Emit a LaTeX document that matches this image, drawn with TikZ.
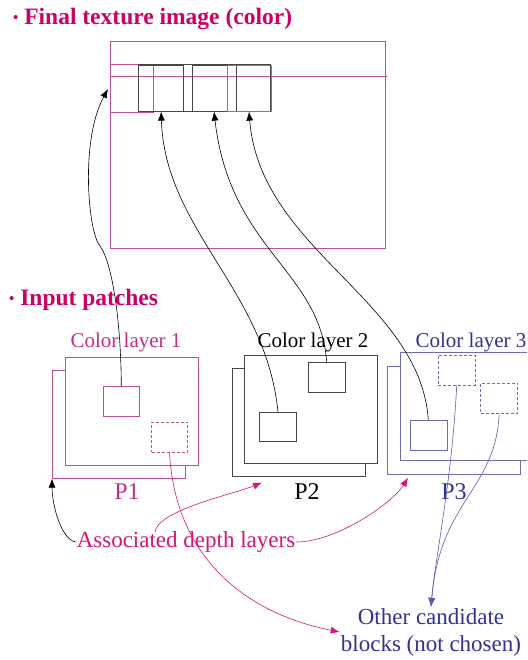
\documentclass[tikz,border=0pt]{standalone}
\usepackage{fontspec}
\setmainfont{Liberation Serif}
\usepackage{tikz}
\usetikzlibrary{arrows.meta,positioning,calc}
\definecolor{titlecolor}{RGB}{204,0,102}
\definecolor{layercolor}{RGB}{190,80,150}
\definecolor{labelcolor}{RGB}{195,45,135}
\definecolor{arrowcolor}{RGB}{215,20,120}
\definecolor{bluecolor}{RGB}{50,50,150}
\definecolor{bluelinecolor}{RGB}{110,110,175}
\definecolor{blockcolor}{RGB}{70,70,70}

\begin{document}
\begin{tikzpicture}[x=1pt,y=-1pt,>={Latex[length=9pt,width=7pt]},
  head/.style={font=\bfseries\fontsize{23.5}{27}\selectfont,text=titlecolor,inner sep=0pt,anchor=base west},
  lbl/.style={font=\fontsize{21}{25}\selectfont,inner sep=0pt,anchor=base},
  big/.style={font=\fontsize{23}{27}\selectfont,inner sep=1pt},
  panel/.style={draw,fill=white,inner sep=0pt,anchor=north west,minimum width=133pt,minimum height=108pt},
  blk/.style={draw,inner sep=0pt,minimum width=36pt,minimum height=30pt},
  cand/.style={blk,dash pattern=on 3pt off 2pt},
  link/.style={->,line width=0.6pt}]
\useasboundingbox (0,0) rectangle (527,660);
\clip (0,0) rectangle (527,660);
\fill[white] (0,0) rectangle (527,660);
% final texture image
\node[head](ttex) at (13,25) {{\fontsize{15}{15}\selectfont\raisebox{2pt}{\textbullet}}\ Final texture image (color)};
\node[draw=layercolor,line width=0.6pt,inner sep=0pt,anchor=north west,minimum width=275pt,minimum height=207pt](tex) at (110,41) {};
\draw[layercolor,line width=0.6pt] (110,64.7)--(138.3,64.7) (110,76)--(387,76) (110,112)--(153.3,112)--(153.3,64.7);
\draw[blockcolor,line width=0.6pt] (138.3,64.7) rectangle (270.7,111);
\node[blk,draw=blockcolor,line width=0.6pt,anchor=north west,minimum width=45pt,minimum height=46.3pt](tb1) at (138.3,64.7) {};
\node[blk,draw=blockcolor,line width=0.6pt,anchor=north west,minimum width=44pt,minimum height=46.3pt](tb2) at (191.7,64.7) {};
\node[blk,draw=blockcolor!70,line width=0.6pt,anchor=north west,minimum width=44pt,minimum height=46.3pt](tb3) at (226.7,64.7) {};
% input patches
\node[head](tin) at (9,305) {{\fontsize{15}{15}\selectfont\raisebox{2pt}{\textbullet}}\ Input patches};
\node[lbl,text=labelcolor](cl1) at (126,347) {Color layer 1};
\node[lbl](cl2) at (313,347) {Color layer 2};
\node[lbl,text=bluecolor](cl3) at (471,347) {Color layer 3};
\node[panel,draw=layercolor,line width=0.6pt](p1back) at (52,370) {};
\node[panel,draw=layercolor,line width=0.6pt](p1front) at (65,357) {};
\node[blk,draw=layercolor,line width=0.6pt](p1blk) at (121.3,401.7) {};
\node[cand,draw=layercolor,line width=0.6pt](p1cand) at (169.5,437) {};
\node[panel,draw=blockcolor,line width=0.6pt](p2back) at (232,368) {};
\node[panel,draw=blockcolor,line width=0.6pt](p2front) at (244,355) {};
\node[blk,draw=blockcolor,line width=0.6pt,minimum width=37pt,minimum height=29pt](p2low) at (278,427) {};
\node[blk,draw=blockcolor,line width=0.6pt,minimum width=37pt](p2up) at (326.7,377.3) {};
\node[panel,draw=bluelinecolor,line width=0.6pt](p3back) at (387,366) {};
\node[panel,draw=bluelinecolor,line width=0.6pt](p3front) at (400,352) {};
\node[blk,draw=bluelinecolor,line width=0.6pt,minimum width=37pt](p3blk) at (428.3,435) {};
\node[cand,draw=bluelinecolor,line width=0.6pt,minimum width=37pt](p3cand1) at (456.7,370) {};
\node[cand,draw=bluelinecolor,line width=0.6pt,minimum width=37pt](p3cand2) at (499.2,398) {};
\node[lbl,font=\fontsize{24}{28}\selectfont,text=labelcolor](pl1) at (127,499) {P1};
\node[lbl,font=\fontsize{24}{28}\selectfont](pl2) at (307,499) {P2};
\node[lbl,font=\fontsize{24}{28}\selectfont,text=bluecolor](pl3) at (454,499) {P3};
\node[big,text=arrowcolor](assoc) at (186,542) {Associated depth layers};
\node[big,text=bluecolor,align=center](other) at (431,632) {Other candidate\\blocks (not chosen)};
% chosen blocks into the texture
\coordinate (bend1) at (100,246);
\draw[link] (p1blk.north) .. controls (121,320) and (112,262) .. (bend1) .. controls (88,232) and (80,140) .. ($(tex.north west)+(-2,48)$);
\draw[link] (p2low.north) .. controls (266,290) and (165,230) .. (tb1.south);
\draw[link] (p2up.north) .. controls (320,270) and (230,250) .. (tb2.south);
\draw[link] (p3blk.north) .. controls (420,300) and (260,250) .. (tb3.south);
% depth layers and unused candidates
\draw[link] (assoc.west) .. controls +(-15,-3) and +(0,25) .. (p1back.south west);
\draw[link,arrowcolor] ($(assoc.north)+(-31,2)$) .. controls +(2,-22) and +(-30,12) .. ($(p2back.south west)+(30,6)$);
\draw[link,arrowcolor] (assoc.east) .. controls +(40,0) and +(-15,25) .. ($(p3back.south west)+(21,3)$);
\draw[link,arrowcolor] (p1cand.south) .. controls +(5,100) and +(-100,-20) .. (other.west);
\draw[link,bluecolor!80] (p3cand1.south) .. controls (452,480) and (435,560) .. (other.north);
\draw[link,bluecolor!80] (p3cand2.south) .. controls (496,490) and (440,500) .. (other.north);
\end{tikzpicture}
\end{document}
